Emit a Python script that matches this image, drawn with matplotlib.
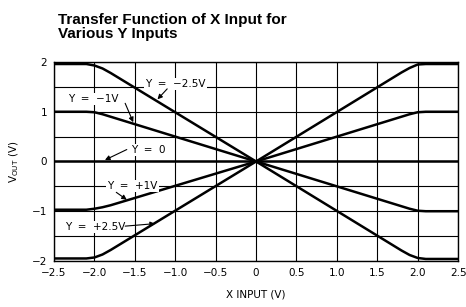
import matplotlib
matplotlib.use("Agg")
import matplotlib.pyplot as plt
import numpy as np

# transfer curves
x_in = [-2.5, -2.1, -2.0, -1.9, -1.8, 0, 1.8, 1.9, 2.0, 2.1, 2.5]
y_m25 = [1.96, 1.96, 1.93, 1.87, 1.78, 0, -1.79, -1.88, -1.94, -1.96, -1.96]
y_m1 = [1.0, 1.0, 0.99, 0.95, 0.9, 0, -0.9, -0.95, -0.99, -1.0, -1.0]
y_0 = [0, 0, 0, 0, 0, 0, 0, 0, 0, 0, 0]
y_p1 = [-0.97, -0.97, -0.95, -0.92, -0.88, 0, 0.9, 0.95, 0.99, 1.0, 1.0]
y_p25 = [-1.95, -1.95, -1.93, -1.87, -1.78, 0, 1.79, 1.88, 1.95, 1.96, 1.96]

x_labels = ["−2.5", "−2.0", "−1.5", "−1.0", "−0.5", "0", "0.5", "1.0", "1.5", "2.0", "2.5"]
y_ticks = [-2, -1, 0, 1, 2]
y_labels = ["−2", "−1", "0", "1", "2"]

# label text, label position, arrow tail, arrow tip
notes = [
    ("Y  =  −2.5V", (-1.0, 1.56), (-1.10, 1.46), (-1.22, 1.25)),
    ("Y  =  −1V", (-2.02, 1.26), (-1.62, 1.17), (-1.52, 0.79)),
    ("Y  =  0", (-1.33, 0.23), (-1.60, 0.24), (-1.87, 0.03)),
    ("Y  =  +1V", (-1.53, -0.49), (-1.73, -0.62), (-1.60, -0.77)),
    ("Y  =  +2.5V", (-1.99, -1.32), (-1.62, -1.30), (-1.25, -1.25)),
]

fig = plt.figure(figsize=(4.66, 3.07), dpi=100)
ax = fig.add_axes([0.116, 0.150, 0.867, 0.648])

for yy in [y_m25, y_m1, y_0, y_p1, y_p25]:
    ax.plot(x_in, yy, color="black", lw=1.8, zorder=3)

ax.set_xlim(-2.5, 2.5)
ax.set_ylim(-2, 2)
ax.set_xticks(np.arange(-2.5, 2.51, 0.5))
ax.set_xticklabels(x_labels, fontsize=7.5)
ax.set_yticks(y_ticks)
ax.set_yticks(np.arange(-1.5, 2, 1.0), minor=True)
ax.set_yticklabels(y_labels, fontsize=7.5)
ax.grid(True, which="both", color="black", lw=0.8)
ax.tick_params(length=0, pad=5, which="both")
for s in ax.spines.values():
    s.set_linewidth(1.0)

for txt, pos, tail, tip in notes:
    ax.text(pos[0], pos[1], txt, fontsize=7.5, ha="center", va="center", zorder=5,
            bbox=dict(boxstyle="square,pad=0.1", fc="white", ec="none"))
    ax.annotate("", xy=tip, xytext=tail, zorder=5,
                arrowprops=dict(arrowstyle="-|>", color="black", lw=0.8,
                                mutation_scale=7, shrinkA=0, shrinkB=0))

ax.set_xlabel("X INPUT (V)", fontsize=7.5, labelpad=8)
ax.set_ylabel(r"V$_{\mathrm{OUT}}$ (V)", fontsize=7.5, labelpad=8)

fig.text(0.124, 0.912, "Transfer Function of X Input for\nVarious Y Inputs",
         fontsize=11, fontweight="bold", family="Liberation Sans",
         ha="left", va="center", linespacing=1.05)

fig.savefig("out.png", dpi=100)
